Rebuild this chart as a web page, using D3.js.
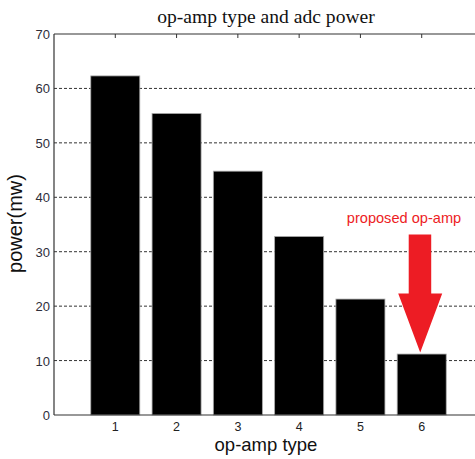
<!DOCTYPE html>
<html>
<head>
<meta charset="utf-8">
<script src="https://cdn.jsdelivr.net/npm/d3@7"></script>
<style>
  body { margin: 0; background: #fff; }
  svg { display: block; }
</style>
</head>
<body>
<svg id="chart" width="475" height="459"></svg>
<script>
  // op-amp type vs power (mw)
  const opampTypes = [1, 2, 3, 4, 5, 6];
  const powerValues = [62.3, 55.4, 44.8, 32.8, 21.3, 11.2];
  const yTicks = [0, 10, 20, 30, 40, 50, 60, 70];
  const proposedType = 6;

  const svg = d3.select('#chart');

  // axes box runs off the right side of the picture (xlim 0..7)
  const x = d3.scaleLinear().domain([0, 7]).range([54, 483]);
  const y = d3.scaleLinear().domain([0, 70]).range([415, 34]);
  const step = x(1) - x(0);
  const barWidth = step * 0.8;

  // dashed grid
  svg.append('g')
    .selectAll('line')
    .data(yTicks.filter(d => d > 0 && d < 70))
    .join('line')
    .attr('x1', x(0)).attr('x2', 475)
    .attr('y1', d => y(d)).attr('y2', d => y(d))
    .attr('stroke', '#333')
    .attr('stroke-width', 1)
    .attr('stroke-dasharray', '3,2');

  // bars
  svg.append('g')
    .selectAll('rect')
    .data(opampTypes)
    .join('rect')
    .attr('x', (d) => x(d) - barWidth / 2)
    .attr('y', (d, i) => y(powerValues[i]))
    .attr('width', barWidth)
    .attr('height', (d, i) => y(0) - y(powerValues[i]))
    .attr('fill', '#000')
    .attr('stroke', '#aaa')
    .attr('stroke-width', 0.8);

  // axis lines
  const axisColor = '#333';
  svg.append('line')
    .attr('x1', x(0)).attr('x2', 475).attr('y1', y(70)).attr('y2', y(70))
    .attr('stroke', axisColor).attr('stroke-width', 1.2);
  svg.append('line')
    .attr('x1', x(0)).attr('x2', 475).attr('y1', y(0)).attr('y2', y(0))
    .attr('stroke', axisColor).attr('stroke-width', 1.2);
  svg.append('line')
    .attr('x1', x(0)).attr('x2', x(0)).attr('y1', y(0)).attr('y2', y(70))
    .attr('stroke', axisColor).attr('stroke-width', 1.2);

  // top tick marks
  svg.append('g')
    .selectAll('line')
    .data(opampTypes)
    .join('line')
    .attr('x1', d => x(d)).attr('x2', d => x(d))
    .attr('y1', y(70)).attr('y2', y(70) + 4)
    .attr('stroke', axisColor).attr('stroke-width', 1);

  // tick labels
  svg.append('g')
    .selectAll('text')
    .data(yTicks)
    .join('text')
    .attr('x', x(0) - 4)
    .attr('y', d => y(d) + 5)
    .attr('text-anchor', 'end')
    .attr('font-family', 'Liberation Sans, Arial, sans-serif')
    .attr('font-size', 13)
    .attr('fill', '#2e2e3a')
    .text(d => d);

  svg.append('g')
    .selectAll('text')
    .data(opampTypes)
    .join('text')
    .attr('x', d => x(d))
    .attr('y', y(0) + 16)
    .attr('text-anchor', 'middle')
    .attr('font-family', 'Liberation Sans, Arial, sans-serif')
    .attr('font-size', 12.5)
    .attr('fill', '#222')
    .text(d => d);

  // title and axis labels
  svg.append('text')
    .attr('x', 266).attr('y', 23)
    .attr('text-anchor', 'middle')
    .attr('font-family', 'Liberation Serif, Times New Roman, serif')
    .attr('font-size', 19.6)
    .attr('fill', '#111')
    .text('op-amp type and adc power');

  svg.append('text')
    .attr('x', 266).attr('y', 451)
    .attr('text-anchor', 'middle')
    .attr('font-family', 'Liberation Sans, Arial, sans-serif')
    .attr('font-size', 18.5)
    .attr('fill', '#111')
    .text('op-amp type');

  svg.append('text')
    .attr('transform', 'translate(22,223.5) rotate(-90)')
    .attr('text-anchor', 'middle')
    .attr('font-family', 'Liberation Sans, Arial, sans-serif')
    .attr('font-size', 20)
    .attr('fill', '#111')
    .text('power(mw)');

  // annotation arrow pointing at the proposed op-amp
  const tipX = x(proposedType) - 1.5;
  const tipY = y(powerValues[proposedType - 1]) - 1.5;
  const arrow = d3.path();
  arrow.moveTo(tipX - 11.5, tipY - 118);
  arrow.lineTo(tipX + 11, tipY - 118);
  arrow.lineTo(tipX + 11, tipY - 59);
  arrow.lineTo(tipX + 22, tipY - 59);
  arrow.lineTo(tipX, tipY);
  arrow.lineTo(tipX - 22, tipY - 59);
  arrow.lineTo(tipX - 11.5, tipY - 59);
  arrow.closePath();
  svg.append('path')
    .attr('d', arrow.toString())
    .attr('fill', '#ed1c24');

  svg.append('text')
    .attr('x', 404).attr('y', 223)
    .attr('text-anchor', 'middle')
    .attr('font-family', 'Liberation Sans, Arial, sans-serif')
    .attr('font-size', 14.6)
    .attr('fill', '#ed1c24')
    .text('proposed op-amp');
</script>
</body>
</html>
